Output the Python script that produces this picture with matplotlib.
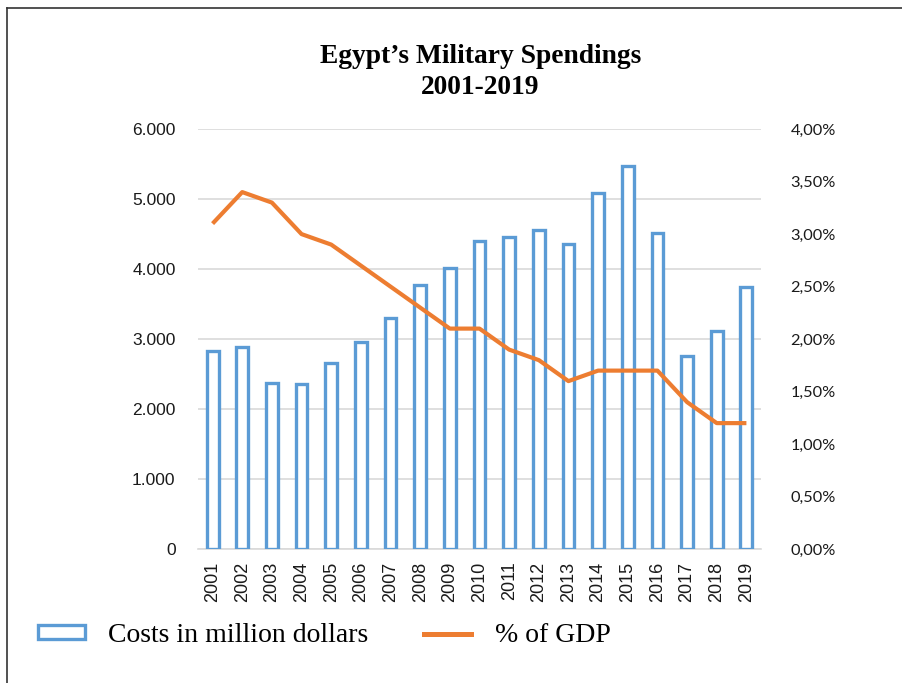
import numpy as np
import matplotlib
matplotlib.use("Agg")
import matplotlib.pyplot as plt
from matplotlib.lines import Line2D
from matplotlib.patches import Patch
from matplotlib.ticker import FuncFormatter, MultipleLocator

# data
years = [str(y) for y in range(2001, 2020)]
costs = [2830, 2890, 2375, 2365, 2660, 2955, 3305, 3770, 4020, 4405,
         4460, 4555, 4355, 5080, 5475, 4510, 2760, 3115, 3750]
gdp_pct = [3.1, 3.4, 3.3, 3.0, 2.9, 2.7, 2.5, 2.3, 2.1, 2.1,
           1.9, 1.8, 1.6, 1.7, 1.7, 1.7, 1.4, 1.2, 1.2]

blue = '#5B9BD5'
orange = '#ED7D31'
grid_col = '#D9D9D9'
tick_col = '#1a1a1a'

fig = plt.figure(figsize=(9.03, 6.83), dpi=100)
ax = fig.add_axes([0.219, 0.196, 0.624, 0.615])
x = np.arange(len(years))

# hollow bars
ax.bar(x, costs, width=0.4, facecolor='white', edgecolor=blue, linewidth=2.4, zorder=3)
ax.set_xlim(-0.5, len(years) - 0.5)
ax.set_ylim(0, 6000)
ax.yaxis.set_major_locator(MultipleLocator(1000))
ax.yaxis.set_major_formatter(FuncFormatter(lambda v, p: '0' if v == 0 else f"{int(v):,}".replace(',', '.')))
ax.grid(axis='y', color=grid_col, linewidth=1.2, zorder=0)
ax.set_axisbelow(True)
ax.set_xticks(x)
ax.set_xticklabels(years, rotation=90, fontfamily='Liberation Sans', fontsize=13, color=tick_col)
for lab in ax.get_yticklabels():
    lab.set_fontfamily('Liberation Sans')
ax.tick_params(axis='y', length=0, pad=16, labelsize=12.5, labelcolor=tick_col)
ax.tick_params(axis='x', length=0, pad=9)
for s in ['top', 'left', 'right']:
    ax.spines[s].set_visible(False)
ax.spines['bottom'].set_color(grid_col)
ax.spines['bottom'].set_linewidth(1.2)

# GDP share on the right axis
ax2 = ax.twinx()
ax2.plot(x, gdp_pct, color=orange, linewidth=3, solid_capstyle='butt', zorder=4)
ax2.set_ylim(0, 4)
ax2.yaxis.set_major_locator(MultipleLocator(0.5))
ax2.yaxis.set_major_formatter(FuncFormatter(lambda v, p: f"{v:.2f}%".replace('.', ',')))
ax2.tick_params(axis='y', length=0, pad=21, labelsize=11.8, labelcolor=tick_col)
for lab in ax2.get_yticklabels():
    lab.set_fontfamily('Lato')
for s in ax2.spines.values():
    s.set_visible(False)

fig.text(0.532, 0.895, "Egypt\u2019s Military Spendings\n2001-2019", ha='center', va='center',
         fontfamily='Liberation Serif', fontweight='bold', fontsize=19.8, linespacing=1.33)

handles = [Patch(facecolor='white', edgecolor=blue, linewidth=2.4),
           Line2D([0], [0], color=orange, linewidth=3.6)]
fig.legend(handles, ['Costs in million dollars', '% of GDP'], loc='center',
           bbox_to_anchor=(0.359, 0.069), ncol=2, frameon=False, handlelength=1.7,
           handleheight=0.4, handletextpad=0.85, columnspacing=2.0,
           prop={'family': 'Liberation Serif', 'size': 20})

# page border (top and left edge only)
fig.add_artist(Line2D([0.008, 1.0], [0.988, 0.988], color='#333333', linewidth=1.2, transform=fig.transFigure))
fig.add_artist(Line2D([0.008, 0.008], [0.0, 0.988], color='#333333', linewidth=1.2, transform=fig.transFigure))

fig.savefig('out.png', dpi=100, facecolor='white')
